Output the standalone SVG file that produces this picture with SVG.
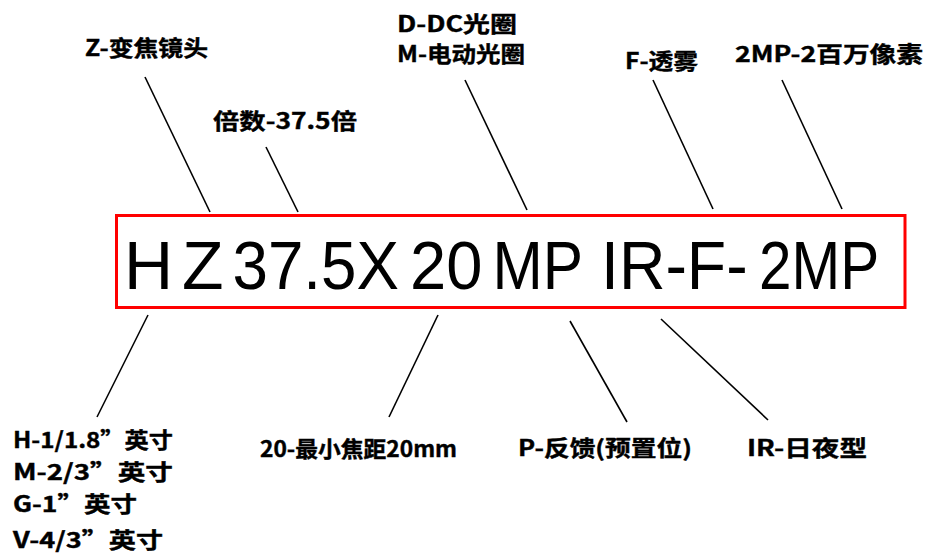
<svg xmlns="http://www.w3.org/2000/svg" width="931" height="556" viewBox="0 0 931 556">
<style>
.lbl{font-family:"Noto Sans CJK SC","Microsoft YaHei",sans-serif;font-weight:bold;font-size:22px;fill:#000;stroke:#000;stroke-width:0.4}
.big{font-family:"Liberation Sans",Arial,sans-serif;font-size:68px;fill:#000}
.ln{stroke:#000;stroke-width:1.6;fill:none}
</style>
<rect width="931" height="556" fill="#fff"/>
<g id="code">
<rect x="116.5" y="215.5" width="788.5" height="92" fill="none" stroke="#ff0000" stroke-width="3"/>
<text class="big" y="289"><tspan x="124">H</tspan><tspan x="182">Z</tspan></text>
<text class="big" x="232.5" y="289" textLength="166.5" lengthAdjust="spacingAndGlyphs">37.5X</text>
<text class="big" x="410" y="289" textLength="72.4" lengthAdjust="spacingAndGlyphs">20</text>
<text class="big" x="492.5" y="289" textLength="90.5" lengthAdjust="spacingAndGlyphs">MP</text>
<text class="big" x="601" y="289" textLength="146.6" lengthAdjust="spacingAndGlyphs">IR-F-</text>
<text class="big" x="759" y="289" textLength="120.2" lengthAdjust="spacingAndGlyphs">2MP</text>
</g>
<g id="connectors">
<line class="ln" x1="145" y1="77" x2="210" y2="212"/>
<line class="ln" x1="266" y1="147" x2="298" y2="212"/>
<line class="ln" x1="465" y1="80" x2="527" y2="210"/>
<line class="ln" x1="653" y1="80" x2="713" y2="209"/>
<line class="ln" x1="782" y1="80" x2="842" y2="209"/>
<line class="ln" x1="148" y1="315" x2="97" y2="417"/>
<line class="ln" x1="438" y1="315" x2="389" y2="417"/>
<line class="ln" x1="570" y1="321" x2="627" y2="422"/>
<line class="ln" x1="661" y1="319" x2="768" y2="420"/>
</g>
<g id="label-z"><text class="lbl" x="85" y="56" textLength="123" lengthAdjust="spacingAndGlyphs">Z-变焦镜头</text></g>
<g id="label-bei"><text class="lbl" x="213" y="129" textLength="144" lengthAdjust="spacingAndGlyphs">倍数-37.5倍</text></g>
<g id="label-iris"><text class="lbl" x="397" y="32" textLength="120" lengthAdjust="spacingAndGlyphs">D-DC光圈</text><text class="lbl" x="397" y="62" textLength="128" lengthAdjust="spacingAndGlyphs">M-电动光圈</text></g>
<g id="label-f"><text class="lbl" x="625" y="69" textLength="73" lengthAdjust="spacingAndGlyphs">F-透雾</text></g>
<g id="label-2mp"><text class="lbl" x="735" y="62" textLength="188" lengthAdjust="spacingAndGlyphs">2MP-2百万像素</text></g>
<g id="label-sensor">
<text class="lbl" x="13" y="448" textLength="160" lengthAdjust="spacingAndGlyphs">H-1/1.8”英寸</text>
<text class="lbl" x="13" y="480" textLength="160" lengthAdjust="spacingAndGlyphs">M-2/3”英寸</text>
<text class="lbl" x="13" y="512" textLength="124" lengthAdjust="spacingAndGlyphs">G-1”英寸</text>
<text class="lbl" x="13" y="548" textLength="150" lengthAdjust="spacingAndGlyphs">V-4/3”英寸</text>
</g>
<g id="label-20"><text class="lbl" x="260" y="457" textLength="197" lengthAdjust="spacingAndGlyphs">20-最小焦距20mm</text></g>
<g id="label-p"><text class="lbl" x="518" y="456" textLength="174" lengthAdjust="spacingAndGlyphs">P-反馈(预置位)</text></g>
<g id="label-ir"><text class="lbl" x="747" y="456" textLength="120" lengthAdjust="spacingAndGlyphs">IR-日夜型</text></g>
</svg>
